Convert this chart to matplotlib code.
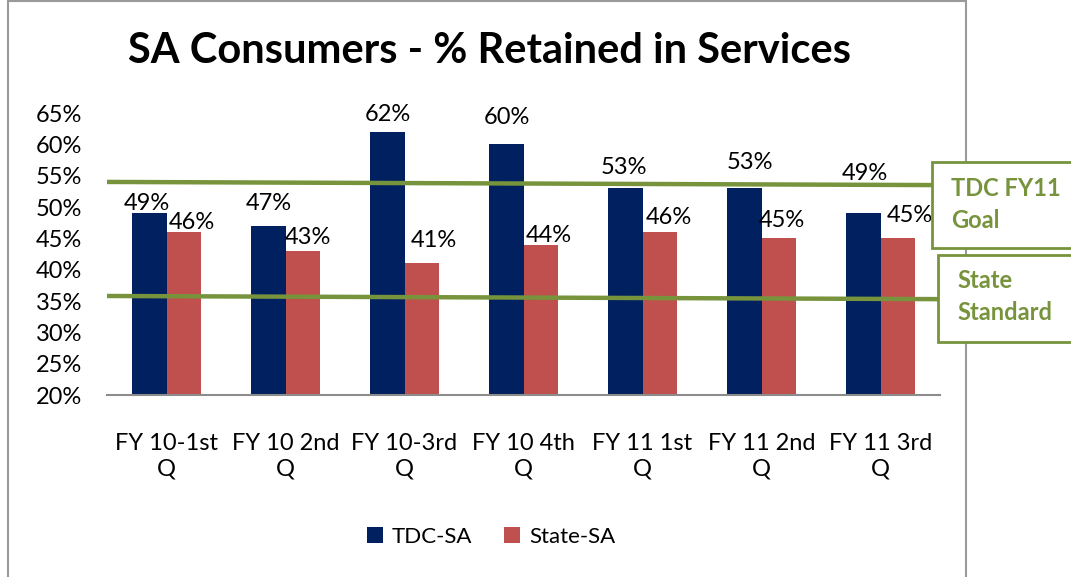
import matplotlib
matplotlib.use("Agg")
import matplotlib.pyplot as plt
import numpy as np
from matplotlib.patches import Rectangle

plt.rcParams['font.family'] = ['Lato', 'DejaVu Sans']

# data
quarters = ["FY 10-1st\nQ", "FY 10 2nd\nQ", "FY 10-3rd\nQ", "FY 10 4th\nQ",
            "FY 11 1st\nQ", "FY 11 2nd\nQ", "FY 11 3rd\nQ"]
tdc_sa = [49, 47, 62, 60, 53, 53, 49]
state_sa = [46, 43, 41, 44, 46, 45, 45]
goal_line = [54.0, 53.5]       # TDC FY11 Goal (left end, right end)
standard_line = [35.8, 35.3]   # State Standard (left end, right end)
y_ticks = [20, 25, 30, 35, 40, 45, 50, 55, 60, 65]

# label nudges (pixels) copied from the manual placement in the original
tdc_lbl_dx = [-3, 0, 0, 0, -2, 5, 1]
tdc_lbl_dy = [10, 22, 17, 27, 21, 26, 40]
st_lbl_dx = [8, 5, 12, 8, 9, 3, 12]
st_lbl_dy = [10, 13, 23, 9, 15, 18, 23]

NAVY = '#002060'
RED = '#C0504D'
GREEN = '#77933C'

W, H = 1071, 577
fig = plt.figure(figsize=(W / 100, H / 100), dpi=100)

# outer chart border
fig.patches.append(Rectangle((8 / W, -0.01), 958 / W, 1.0 - 0.5 / H + 0.01,
                             transform=fig.transFigure, fill=False,
                             edgecolor='#9a9a9a', linewidth=1.5))

ax = fig.add_axes([107 / W, 1 - 395 / H, 833 / W, 282 / H])
x = np.arange(len(quarters))
bw = 0.286
b1 = ax.bar(x - bw / 2, tdc_sa, bw, bottom=0, color=NAVY, label='TDC-SA', zorder=2)
b2 = ax.bar(x + bw / 2, state_sa, bw, bottom=0, color=RED, label='State-SA', zorder=2)

for i in range(len(x)):
    ax.annotate(f"{tdc_sa[i]}%", (x[i] - bw / 2, tdc_sa[i]),
                xytext=(tdc_lbl_dx[i], tdc_lbl_dy[i]), textcoords='offset pixels',
                ha='center', va='center', fontsize=17, zorder=4)
    ax.annotate(f"{state_sa[i]}%", (x[i] + bw / 2, state_sa[i]),
                xytext=(st_lbl_dx[i], st_lbl_dy[i]), textcoords='offset pixels',
                ha='center', va='center', fontsize=17, zorder=4)

# reference lines, running out to the callout boxes
x_left = -0.5
ax.plot([x_left, (932 - 107) / 119 - 0.5], goal_line, color=GREEN, lw=3.2,
        clip_on=False, zorder=3, solid_capstyle='butt')
ax.plot([x_left, (938 - 107) / 119 - 0.5], standard_line, color=GREEN, lw=3.2,
        clip_on=False, zorder=3, solid_capstyle='butt')

ax.set_xlim(-0.5, len(quarters) - 0.5)
ax.set_ylim(20, 65)
ax.set_yticks(y_ticks)
ax.set_yticklabels([f"{v}%" for v in y_ticks])
ax.set_xticks(x)
ax.set_xticklabels(quarters, linespacing=1.3)
ax.tick_params(axis='y', length=0, pad=18, labelsize=17)
ax.tick_params(axis='x', length=0, pad=27, labelsize=17)
for s in ['top', 'right', 'left']:
    ax.spines[s].set_visible(False)
ax.spines['bottom'].set_color('#8c8c8c')
ax.spines['bottom'].set_linewidth(1.5)

ax.set_title("SA Consumers - % Retained in Services", fontsize=30,
             fontweight='bold', x=(490 - 107) / 833, y=1.0, pad=36)

leg = fig.legend(handles=[b1, b2], loc='center', bbox_to_anchor=(491 / W, 1 - 537 / H),
                 ncol=2, frameon=False, fontsize=16, handlelength=0.75,
                 handleheight=0.75, handletextpad=0.4, columnspacing=1.4)

# callout boxes on the right
for (bx, by0, by1), lines in [((932, 162, 248), ("TDC FY11", "Goal")),
                               ((938, 255, 342), ("State", "Standard"))]:
    fig.patches.append(Rectangle((bx / W, 1 - by1 / H), (W - bx + 20) / W, (by1 - by0) / H,
                                 transform=fig.transFigure, facecolor='white',
                                 edgecolor=GREEN, linewidth=2, zorder=5))
    fig.text((bx + 19) / W, 1 - (by0 + 26) / H, lines[0], color=GREEN, fontsize=17,
             fontweight='bold', va='center', ha='left', zorder=6)
    fig.text((bx + 19) / W, 1 - (by0 + 58) / H, lines[1], color=GREEN, fontsize=17,
             fontweight='bold', va='center', ha='left', zorder=6)

fig.savefig("out.png", dpi=100)
